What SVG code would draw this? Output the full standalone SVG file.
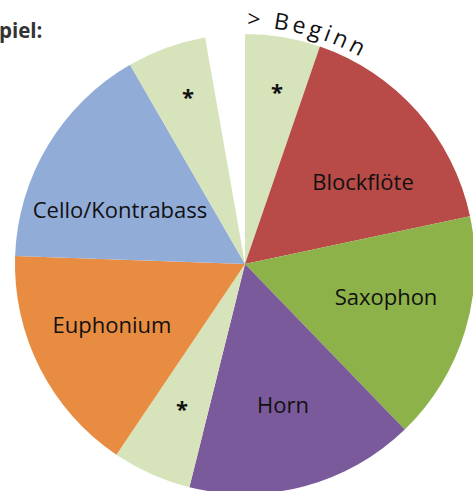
<svg xmlns="http://www.w3.org/2000/svg" width="473" height="491" viewBox="0 0 473 491">
<style>
.lbl{font-family:"Open Sans","Liberation Sans",sans-serif;font-size:22px;fill:#111111;text-anchor:middle}
.ast{font-family:"Open Sans","Liberation Sans",sans-serif;font-size:22px;font-weight:bold;fill:#111111;text-anchor:middle}
.lg{fill:#d6e3bb}
</style>
<defs>
<path id="arc" d="M245,27 A237,237 0 0 1 450.2,145.5"/>
</defs>
<rect width="473" height="491" fill="#ffffff"/>
<g id="slice-star1"><path class="lg" d="M245,264 L245,34 A230,230 0 0 1 319.9,46.5 Z"/></g>
<g id="slice-blockfloete"><path fill="#b84a48" d="M245,264 L319.9,46.5 A230,230 0 0 1 470,216.2 Z"/></g>
<g id="slice-saxophon"><path fill="#8db24a" d="M245,264 L470,216.2 A230,230 0 0 1 404.8,429.4 Z"/></g>
<g id="slice-horn"><path fill="#7a5a9a" d="M245,264 L404.8,429.4 A230,230 0 0 1 189.4,487.2 Z"/></g>
<g id="slice-star2"><path class="lg" d="M245,264 L189.4,487.2 A230,230 0 0 1 116.4,454.7 Z"/></g>
<g id="slice-euphonium"><path fill="#e88c42" d="M245,264 L116.4,454.7 A230,230 0 0 1 15.1,256 Z"/></g>
<g id="slice-cello"><path fill="#92acd8" d="M245,264 L15.1,256 A230,230 0 0 1 130,64.8 Z"/></g>
<g id="slice-star3"><path class="lg" d="M245,264 L130,64.8 A230,230 0 0 1 205.1,37.5 Z"/></g>
<g id="labels">
<text class="lbl" x="363" y="190">Blockflöte</text>
<text class="lbl" x="386" y="305">Saxophon</text>
<text class="lbl" x="283" y="413">Horn</text>
<text class="lbl" x="112" y="333">Euphonium</text>
<text class="lbl" x="120" y="218">Cello/Kontrabass</text>
<text class="ast" x="277" y="100">*</text>
<text class="ast" x="188" y="105">*</text>
<text class="ast" x="182" y="417">*</text>
</g>
<text x="-1" y="38" font-family="'Open Sans','Liberation Sans',sans-serif" font-size="20.5" font-weight="bold" fill="#333333">piel:</text>
<text font-family="'Open Sans','Liberation Sans',sans-serif" font-size="23" fill="#111111" letter-spacing="3.5"><textPath href="#arc" startOffset="2">&gt; Beginn</textPath></text>
</svg>
